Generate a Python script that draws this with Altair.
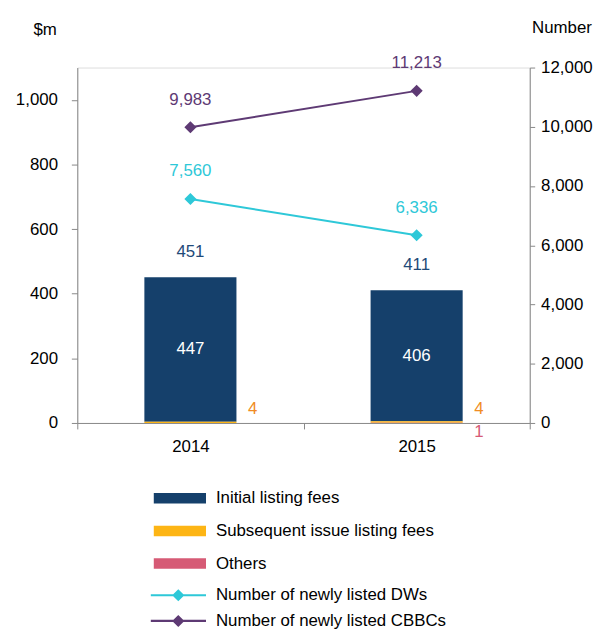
import altair as alt
import pandas as pd

years = ["2014", "2015"]
initial_fees = [447, 406]
subsequent_fees = [4, 4]
other_fees = [0, 1]
total_fees = [451, 411]
dw_counts = [7560, 6336]
cbbc_counts = [9983, 11213]

bar_cats = ["Initial listing fees", "Subsequent issue listing fees", "Others"]
bar_colors = ["#15406b", "#fdb515", "#d65a75"]
line_cats = ["Number of newly listed DWs", "Number of newly listed CBBCs"]
line_colors = ["#2ec8d8", "#5e3a74"]

FONT = "Liberation Sans, Arial, sans-serif"
FS = 17

rows = []
for i, yr in enumerate(years):
    rows.append({"year": yr, "cat": bar_cats[0], "value": initial_fees[i], "ord": 2})
    rows.append({"year": yr, "cat": bar_cats[1], "value": subsequent_fees[i], "ord": 1})
    rows.append({"year": yr, "cat": bar_cats[2], "value": other_fees[i], "ord": 0})
bars_df = pd.DataFrame(rows)

lab_df = pd.DataFrame({"year": years, "initial": initial_fees, "sub": subsequent_fees,
                       "oth": other_fees, "total": total_fees})

line_rows = []
for i, yr in enumerate(years):
    line_rows.append({"year": yr, "series": line_cats[0], "count": dw_counts[i]})
    line_rows.append({"year": yr, "series": line_cats[1], "count": cbbc_counts[i]})
lines_df = pd.DataFrame(line_rows)

x_enc = alt.X("year:N", title=None,
              scale=alt.Scale(paddingInner=0, paddingOuter=0),
              axis=alt.Axis(labelAngle=0, tickBand="extent", domainColor="#888888",
                            tickColor="#888888", tickSize=6, labelPadding=10,
                            labelFontSize=FS, labelColor="#000000", labelFont=FONT))

left_axis = alt.Axis(values=[0, 200, 400, 600, 800, 1000], format=",.0f", grid=False,
                     domainColor="#888888", tickColor="#888888", tickSize=6,
                     labelPadding=14, labelFontSize=FS, labelColor="#000000", labelFont=FONT,
                     title="$m", titleAngle=0, titleX=-33, titleY=-38, titleAlign="center",
                     titleBaseline="middle", titleFontWeight="normal", titleFontSize=FS,
                     titleFont=FONT, titleColor="#000000")
left_scale = alt.Scale(domain=[0, 1100], nice=False)

right_axis = alt.Axis(values=[0, 2000, 4000, 6000, 8000, 10000, 12000], format=",.0f",
                      orient="right", grid=False, domainColor="#888888", tickColor="#888888",
                      tickSize=5, labelPadding=6, labelFontSize=FS, labelColor="#000000",
                      labelFont=FONT, title="Number", titleAngle=0, titleX=32, titleY=-40,
                      titleAlign="center", titleBaseline="middle", titleFontWeight="normal",
                      titleFontSize=FS, titleFont=FONT, titleColor="#000000")
right_scale = alt.Scale(domain=[0, 12000], nice=False)

bar_symbol = "M-1,-0.2L1,-0.2L1,0.2L-1,0.2Z"
line_symbol = "M-1,-0.04L1,-0.04L1,0.04L-1,0.04ZM0,-0.22L0.22,0L0,0.22L-0.22,0Z"

bars = alt.Chart(bars_df).mark_bar(width=93).encode(
    x=x_enc,
    y=alt.Y("value:Q", stack="zero", scale=left_scale, axis=left_axis),
    fill=alt.Fill("cat:N", scale=alt.Scale(domain=bar_cats, range=bar_colors),
                  legend=alt.Legend(title=None, orient="none", legendX=77, legendY=426,
                                    symbolType=bar_symbol, symbolSize=2809,
                                    symbolStrokeWidth=0, clipHeight=18, rowPadding=15,
                                    labelOffset=10, labelFontSize=FS, labelFont=FONT,
                                    labelColor="#000000", labelLimit=400)),
    order=alt.Order("ord:Q", sort="ascending"),
)

lab_base = alt.Chart(lab_df)
total_text = lab_base.mark_text(dy=-25, fontSize=FS, font=FONT, color="#1f4a78").encode(
    x=x_enc, y=alt.Y("total:Q", scale=left_scale, axis=left_axis), text=alt.Text("total:Q"))
init_text = lab_base.transform_calculate(
    mid="datum.oth + datum.sub + datum.initial / 2"
).mark_text(fontSize=FS, font=FONT, color="#ffffff").encode(
    x=x_enc, y=alt.Y("mid:Q", scale=left_scale, axis=left_axis), text=alt.Text("initial:Q"))
sub_text = lab_base.transform_calculate(zero="0").mark_text(
    dx=63, dy=-14, fontSize=FS, font=FONT, color="#f08c23").encode(
    x=x_enc, y=alt.Y("zero:Q", scale=left_scale, axis=left_axis), text=alt.Text("sub:Q"))
oth_text = lab_base.transform_filter("datum.oth > 0").transform_calculate(zero="0").mark_text(
    dx=63, dy=9, fontSize=FS, font=FONT, color="#d65a75").encode(
    x=x_enc, y=alt.Y("zero:Q", scale=left_scale, axis=left_axis), text=alt.Text("oth:Q"))

left = alt.layer(bars, total_text, init_text, sub_text, oth_text)

color_enc = alt.Color("series:N", scale=alt.Scale(domain=line_cats, range=line_colors),
                      legend=alt.Legend(title=None, orient="none", legendX=74, legendY=524,
                                        symbolType=line_symbol, symbolSize=3136,
                                        symbolStrokeWidth=0, clipHeight=18, rowPadding=8,
                                        labelOffset=10, labelFontSize=FS, labelFont=FONT,
                                        labelColor="#000000", labelLimit=400))
ly = alt.Y("count:Q", scale=right_scale, axis=right_axis)
lbase = alt.Chart(lines_df)
points = lbase.mark_point(shape="diamond", filled=True, size=150, opacity=1).encode(
    x=x_enc, y=ly, color=color_enc)
lines = lbase.mark_line(strokeWidth=2).encode(x=x_enc, y=ly, color=color_enc)
dw_text = lbase.transform_filter(alt.datum.series == line_cats[0]).mark_text(
    dy=-28, fontSize=FS, font=FONT, color=line_colors[0]).encode(
    x=x_enc, y=ly, text=alt.Text("count:Q", format=","))
cbbc_text = lbase.transform_filter(alt.datum.series == line_cats[1]).mark_text(
    dy=-28, fontSize=FS, font=FONT, color=line_colors[1]).encode(
    x=x_enc, y=ly, text=alt.Text("count:Q", format=","))

right = alt.layer(points, lines, dw_text, cbbc_text)

chart = alt.layer(left, right).resolve_scale(y="independent").properties(
    width=457, height=359,
    autosize=alt.AutoSizeParams(type="none"),
    padding={"left": 70, "top": 57, "right": 74, "bottom": 210},
).configure_view(stroke=None).configure(font=FONT)

chart.save("out.html", embed_options={"renderer": "svg", "actions": False})
